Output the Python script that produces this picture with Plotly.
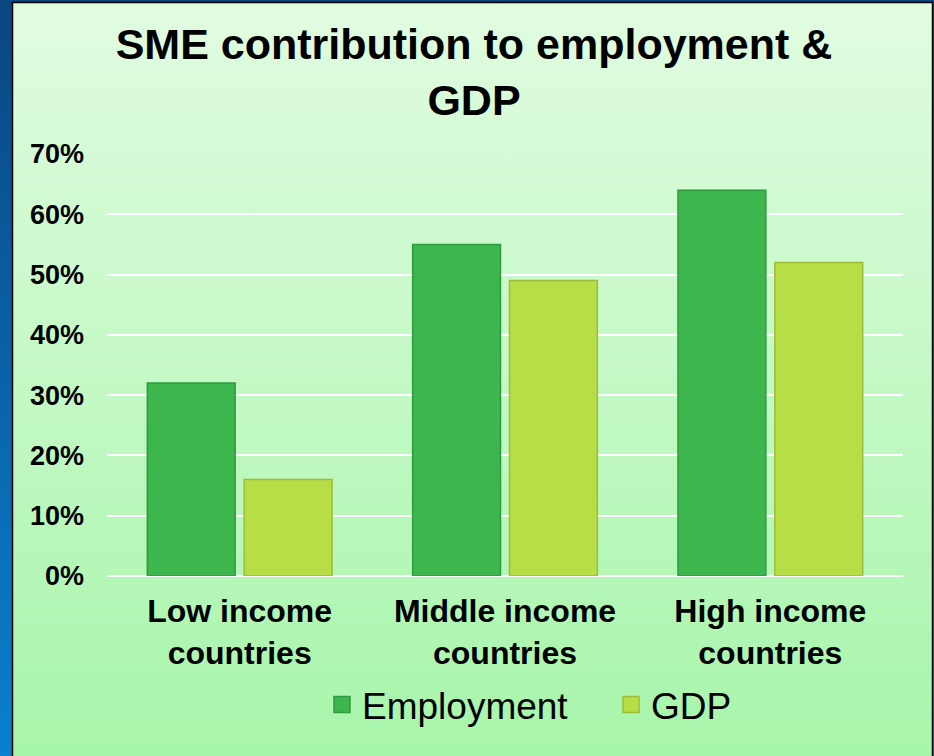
import base64
import plotly.graph_objects as go

# ---- data ----
categories = ["Low income<br>countries", "Middle income<br>countries", "High income<br>countries"]
employment = [0.32, 0.55, 0.64]
gdp = [0.16, 0.49, 0.52]
y_tick_vals = [0, 0.1, 0.2, 0.3, 0.4, 0.5, 0.6, 0.7]
y_tick_text = ["0%", "10%", "20%", "30%", "40%", "50%", "60%", "70%"]
series_names = ["Employment", "GDP"]

# ---- geometry ----
W, H = 934, 756
ML, MR, MT, MB = 107, 31, 154, 180
PW, PH = W - ML - MR, H - MT - MB

FONT = "Liberation Sans, Arial, sans-serif"
EMP_COLOR, EMP_LINE = "#3db64d", "#2e9a3e"
GDP_COLOR, GDP_LINE = "#b8de47", "#9cbd35"


def svg_uri(svg):
    return "data:image/svg+xml;base64," + base64.b64encode(svg.encode()).decode()


frame_svg = (
    f'<svg xmlns="http://www.w3.org/2000/svg" width="{W}" height="{H}" '
    f'viewBox="0 0 {W} {H}" preserveAspectRatio="none">'
    '<defs>'
    '<linearGradient id="b" x1="0" y1="0" x2="0" y2="1">'
    '<stop offset="0" stop-color="#0a4682"/><stop offset="1" stop-color="#0a80cf"/>'
    '</linearGradient>'
    '<linearGradient id="g" x1="0" y1="0" x2="0" y2="1">'
    '<stop offset="0" stop-color="#e1fce1"/><stop offset="1" stop-color="#a6f5a9"/>'
    '</linearGradient>'
    '</defs>'
    f'<rect x="0" y="0" width="{W}" height="{H}" fill="url(#b)"/>'
    f'<rect x="12.5" y="2.5" width="920" height="{H + 10}" fill="url(#g)" stroke="#000" stroke-width="1.5"/>'
    '</svg>'
)

fig = go.Figure()
fig.add_trace(go.Bar(
    name=series_names[0], x=categories, y=employment, showlegend=False,
    marker=dict(color=EMP_COLOR, line=dict(color=EMP_LINE, width=1.5)),
))
fig.add_trace(go.Bar(
    name=series_names[1], x=categories, y=gdp, showlegend=False,
    marker=dict(color=GDP_COLOR, line=dict(color=GDP_LINE, width=1.5)),
))
# legend entries with larger square swatches
for name, col, lc in [(series_names[0], EMP_COLOR, EMP_LINE), (series_names[1], GDP_COLOR, GDP_LINE)]:
    fig.add_trace(go.Scatter(
        name=name, x=[None], y=[None], mode="markers",
        marker=dict(symbol="square", size=19, color=col, line=dict(color=lc, width=1.5)),
        showlegend=True,
    ))

fig.update_layout(
    width=W, height=H,
    margin=dict(l=ML, r=MR, t=MT, b=MB, pad=0),
    paper_bgcolor="#0a64a8",
    plot_bgcolor="rgba(0,0,0,0)",
    barmode="group",
    bargap=0.27,
    bargroupgap=0.093,
    showlegend=True,
    title=dict(
        text="SME contribution to employment &<br>GDP",
        font=dict(family=FONT, size=43, color="black", weight="bold"),
        x=474 / W, xanchor="center",
        y=1 - 59 / H, yanchor="top", yref="container",
    ),
    legend=dict(
        orientation="h",
        x=(322 - ML) / PW, xanchor="left",
        y=-(705 - (H - MB)) / PH, yanchor="middle",
        font=dict(family=FONT, size=37, color="black"),
        bgcolor="rgba(0,0,0,0)",
        traceorder="normal",
        entrywidth=244, entrywidthmode="pixels",
    ),
    images=[dict(
        source=svg_uri(frame_svg),
        xref="paper", yref="paper",
        x=-ML / PW, y=1 + MT / PH,
        sizex=W / PW, sizey=H / PH,
        xanchor="left", yanchor="top",
        sizing="stretch", layer="below",
    )],
)

fig.update_xaxes(
    showgrid=False, showline=False, zeroline=False,
    tickfont=dict(family=FONT, size=32, color="black", weight="bold"),
    ticks="", ticklabelstandoff=13,
)
fig.update_yaxes(
    range=[0, 0.7],
    tickvals=y_tick_vals, ticktext=y_tick_text,
    showgrid=True, gridcolor="white", gridwidth=2,
    zeroline=True, zerolinecolor="white", zerolinewidth=2,
    showline=False, ticks="",
    tickfont=dict(family=FONT, size=27, color="black", weight="bold"),
    ticklabelstandoff=22,
)

fig.write_html("out.html")
